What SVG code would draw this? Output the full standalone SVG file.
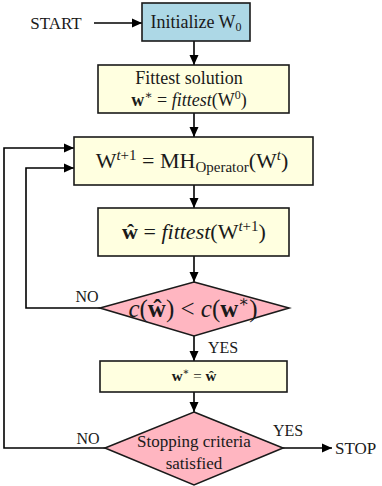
<svg xmlns="http://www.w3.org/2000/svg" width="382" height="486" viewBox="0 0 382 486" font-family="'Liberation Serif', 'DejaVu Serif', serif">
  <defs>
    <marker id="arrow" viewBox="0 0 10 10" refX="10" refY="5" markerWidth="10" markerHeight="10" markerUnits="userSpaceOnUse" orient="auto">
      <path d="M0,0.5 L10,5 L0,9.5 z" fill="#000"/>
    </marker>
    <style>
      .box { fill: #ffffe0; stroke: #1a1a1a; stroke-width: 1.6; }
      .start { fill: #add8e6; stroke: #1a1a1a; stroke-width: 1.6; }
      .dec { fill: #ffb6c1; stroke: #1a1a1a; stroke-width: 1.6; }
      .edge { fill: none; stroke: #000; stroke-width: 1.6; marker-end: url(#arrow); }
      text { font-family: 'Liberation Serif', 'DejaVu Serif', serif; fill: #1a1a1a; }
      .it { font-style: italic; }
      .bf { font-weight: bold; }
    </style>
  </defs>

  <!-- connectors -->
  <g id="connectors">
    <line class="edge" x1="94" y1="23" x2="142" y2="23"/>
    <line class="edge" x1="194" y1="41" x2="194" y2="65"/>
    <line class="edge" x1="194" y1="113" x2="194" y2="137"/>
    <line class="edge" x1="194" y1="185" x2="194" y2="208"/>
    <line class="edge" x1="194" y1="256" x2="194" y2="282"/>
    <line class="edge" x1="194" y1="336" x2="194" y2="361"/>
    <line class="edge" x1="194" y1="392" x2="194" y2="412"/>
    <path class="edge" d="M100,308 H26 V168 H74"/>
    <path class="edge" d="M105,448 H4 V148 H74"/>
    <line class="edge" x1="283" y1="448" x2="332" y2="448"/>
    <text x="87" y="302" font-size="16" text-anchor="middle">NO</text>
    <text x="208" y="353" font-size="16">YES</text>
    <text x="88" y="444" font-size="16" text-anchor="middle">NO</text>
    <text x="288" y="436" font-size="16" text-anchor="middle">YES</text>
  </g>

  <g id="start-label">
    <text x="56" y="29" font-size="17" text-anchor="middle">START</text>
  </g>

  <g id="stop-label">
    <text x="335" y="454" font-size="17">STOP</text>
  </g>

  <g id="init">
    <rect class="start" x="142" y="3" width="108" height="38"/>
    <text x="196" y="28" font-size="18" text-anchor="middle">Initialize W<tspan font-size="12" dy="3">0</tspan></text>
  </g>

  <g id="fittest-init">
    <rect class="box" x="98" y="65" width="191" height="48"/>
    <text x="189" y="84" font-size="18" text-anchor="middle">Fittest solution</text>
    <text x="189" y="106" font-size="18" text-anchor="middle"><tspan class="bf">w</tspan><tspan font-size="12" dy="-7">∗</tspan><tspan dy="7"> = </tspan><tspan class="it">fittest</tspan>(W<tspan font-size="12" dy="-7">0</tspan><tspan dy="7">)</tspan></text>
  </g>

  <g id="operator">
    <rect class="box" x="74" y="137" width="239" height="48"/>
    <text x="192" y="168" font-size="22" text-anchor="middle">W<tspan font-size="15" dy="-8"><tspan class="it">t</tspan>+1</tspan><tspan dy="8"> = MH</tspan><tspan font-size="15" dy="4">Operator</tspan><tspan dy="-4">(W</tspan><tspan class="it" font-size="15" dy="-8">t</tspan><tspan dy="8">)</tspan></text>
  </g>

  <g id="fittest-new">
    <rect class="box" x="98" y="208" width="191" height="48"/>
    <text x="194" y="239" font-size="22" text-anchor="middle"><tspan class="bf">ŵ</tspan> = <tspan class="it">fittest</tspan>(W<tspan font-size="15" dy="-8"><tspan class="it">t</tspan>+1</tspan><tspan dy="8">)</tspan></text>
  </g>

  <g id="compare">
    <polygon class="dec" points="194,282 289,308 194,336 100,308"/>
    <text x="193" y="317" font-size="25" text-anchor="middle"><tspan class="it">c</tspan>(<tspan class="bf">ŵ</tspan>) &lt; <tspan class="it">c</tspan>(<tspan class="bf">w</tspan><tspan font-size="16" dy="-10">∗</tspan><tspan dy="10">)</tspan></text>
  </g>

  <g id="update-best">
    <rect class="box" x="100" y="361" width="187" height="31"/>
    <text x="194" y="381" font-size="15" text-anchor="middle"><tspan class="bf">w</tspan><tspan font-size="10" dy="-6">∗</tspan><tspan dy="6"> = </tspan><tspan class="bf">ŵ</tspan></text>
  </g>

  <g id="stopping">
    <polygon class="dec" points="194,412 283,448 194,485 105,448"/>
    <text x="194" y="447" font-size="17" text-anchor="middle">Stopping criteria</text>
    <text x="194" y="469" font-size="17" text-anchor="middle">satisfied</text>
  </g>
</svg>
